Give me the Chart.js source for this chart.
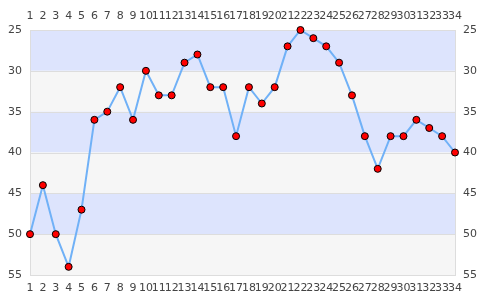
<!DOCTYPE html>
<html>
<head>
<meta charset="utf-8">
<script src="https://cdn.jsdelivr.net/npm/chart.js@4/dist/chart.umd.min.js"></script>
<style>
  html, body { margin: 0; padding: 0; background: #fff; }
  #wrap { width: 485px; height: 300px; }
</style>
</head>
<body>
<div id="wrap"><canvas id="chart"></canvas></div>
<script>
// categories along x
const categories = ['1','2','3','4','5','6','7','8','9','10','11','12','13','14','15','16','17',
                    '18','19','20','21','22','23','24','25','26','27','28','29','30','31','32','33','34'];
const values = [50, 44, 50, 54, 47, 36, 35, 32, 36, 30, 33, 33, 29, 28, 32, 32, 38,
                32, 34, 32, 27, 25, 26, 27, 29, 33, 38, 42, 38, 38, 36, 37, 38, 40];
const yTicks = [25, 30, 35, 40, 45, 50, 55];
const bandColors = ['#dde4fd', '#f6f6f6'];

// alternating horizontal bands behind the line
const bands = {
    id: 'bands',
    beforeDatasetsDraw(chart) {
        const { ctx, chartArea: a, scales: { y } } = chart;
        ctx.save();
        for (let i = 0; i < yTicks.length - 1; i++) {
            const t = y.getPixelForValue(yTicks[i]);
            const b = y.getPixelForValue(yTicks[i + 1]);
            ctx.fillStyle = bandColors[i % 2];
            ctx.fillRect(a.left, t, a.right - a.left, b - t);
        }
        // grid lines on top of bands
        ctx.strokeStyle = '#dddddd';
        ctx.lineWidth = 1;
        yTicks.forEach(v => {
            const p = Math.round(y.getPixelForValue(v)) + 0.5;
            ctx.beginPath(); ctx.moveTo(a.left, p); ctx.lineTo(a.right, p); ctx.stroke();
        });
        ctx.strokeRect(Math.round(a.left) + 0.5, Math.round(a.top) + 0.5,
                       Math.round(a.right - a.left), Math.round(a.bottom - a.top));
        ctx.restore();
    }
};

const font = { family: 'DejaVu Sans', size: 11 };
const tickColor = '#444';

function yAxis(pos, w) {
    return {
        type: 'linear', position: pos, reverse: true, min: 25, max: 55,
        afterFit(s) { s.width = w; },
        afterBuildTicks(s) { s.ticks = yTicks.map(v => ({ value: v })); },
        grid: { display: false, drawTicks: false },
        border: { display: false },
        ticks: { font, color: tickColor, padding: 8 }
    };
}

function xAxis(pos, h) {
    return {
        type: 'category', position: pos, labels: categories,
        offset: false,
        afterFit(s) { s.height = h; },
        grid: { display: false, drawTicks: false },
        border: { display: false },
        ticks: { font, color: tickColor, autoSkip: false, maxRotation: 0, minRotation: 0, padding: 7 }
    };
}

new Chart(document.getElementById('chart'), {
    type: 'line',
    data: {
        labels: categories,
        datasets: [{
            data: values,
            borderColor: '#70b1f7',
            borderWidth: 2,
            pointBackgroundColor: '#ff0000',
            pointBorderColor: '#000',
            pointBorderWidth: 1,
            pointRadius: 3.5,
            tension: 0,
            clip: false,
            xAxisID: 'x',
            yAxisID: 'y'
        }]
    },
    options: {
        responsive: true,
        maintainAspectRatio: false,
        animation: false,
        layout: { padding: 0 },
        plugins: { legend: { display: false }, tooltip: { enabled: false } },
        scales: {
            x: xAxis('bottom', 25),
            x2: xAxis('top', 30),
            y: yAxis('left', 30),
            y2: yAxis('right', 30)
        }
    },
    plugins: [bands]
});
</script>
</body>
</html>
